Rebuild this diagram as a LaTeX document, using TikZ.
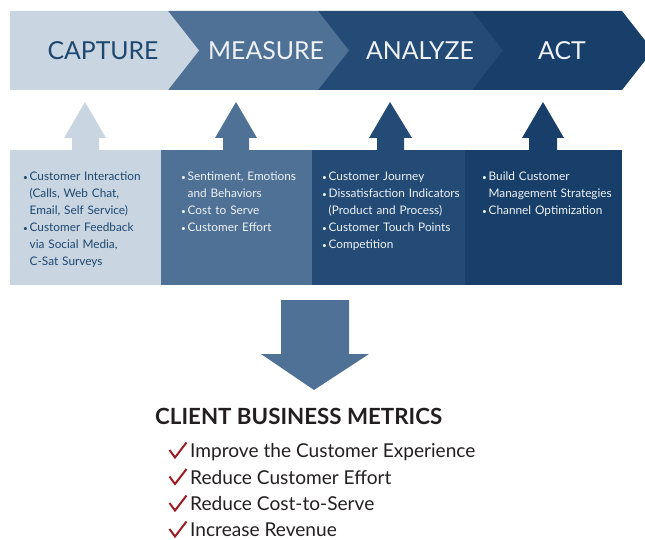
\documentclass[tikz,border=0pt]{standalone}
\usepackage{fontspec}
\setmainfont{Lato}
\begin{document}
\definecolor{capblue}{HTML}{C9D5E1}
\definecolor{meablue}{HTML}{4F7196}
\definecolor{anablue}{HTML}{234B76}
\definecolor{actblue}{HTML}{183F69}
\definecolor{navytext}{HTML}{1E4870}
\definecolor{palewhite}{HTML}{EEF2F6}
\definecolor{inkgray}{HTML}{231F20}
\definecolor{checkred}{HTML}{9E1B22}
% bullet opening a list entry, and the indent of its continuation lines
\newcommand{\bul}{\makebox[6.5pt][l]{\raisebox{0.6pt}{\scalebox{0.7}{\textbullet}}}}
\newcommand{\cnt}{\hspace*{6.5pt}}
\begin{tikzpicture}[x=1pt,y=-1pt,
  stage/.style={font=\fontsize{24.8}{27}\selectfont, inner sep=0pt},
  listbox/.style={anchor=north west, inner sep=0pt, text width=150pt, align=left,
    font=\fontsize{11.8}{17}\selectfont},
  metric/.style={anchor=base west, inner sep=0pt, text depth=0pt, text=inkgray,
    font=\fontsize{19.1}{21}\selectfont},
  tick/.style={draw=checkred, line width=2pt, line cap=butt, line join=miter}]
\useasboundingbox (0,0) rectangle (645,540);
\clip (0,0) rectangle (645,540);

% chevron band, drawn back to front
\fill[actblue] (472,11) -- (622,11) -- (653,50.5) -- (622,90) -- (472,90) -- cycle;
\fill[anablue] (318,11) -- (472,11) -- (503,50.5) -- (472,90) -- (318,90) -- cycle;
\fill[meablue] (168,11) -- (318,11) -- (349,50.5) -- (318,90) -- (168,90) -- cycle;
\fill[capblue] (10,11) -- (168,11) -- (199,50.5) -- (168,90) -- (10,90) -- cycle;

\node[stage, text=navytext] (capture) at (103,50.5) {CAPTURE};
\node[stage, text=palewhite] (measure) at (266,50.5) {MEASURE};
\node[stage, text=palewhite] (analyze) at (420,50.5) {ANALYZE};
\node[stage, text=palewhite] (act) at (562,50.5) {ACT};

% up arrows feeding each stage
\fill[capblue] (72,150) -- (72,138) -- (64,138) -- (85,102) -- (106,138) -- (99,138) -- (99,150) -- cycle;
\fill[meablue] (223,150) -- (223,138) -- (215,138) -- (236,102) -- (257,138) -- (249,138) -- (249,150) -- cycle;
\fill[anablue] (377,150) -- (377,138) -- (369,138) -- (390,102) -- (412,138) -- (404,138) -- (404,150) -- cycle;
\fill[actblue] (529,150) -- (529,138) -- (522,138) -- (543,102) -- (564,138) -- (557,138) -- (557,150) -- cycle;

% detail boxes
\fill[capblue] (10,150) rectangle (161,285);
\fill[meablue] (161,150) rectangle (312,285);
\fill[anablue] (312,150) rectangle (465,285);
\fill[actblue] (465,150) rectangle (622,285);

\node[listbox, text=navytext] (capturelist) at (23,172) {%
  \bul Customer Interaction\\\cnt(Calls, Web Chat,\\\cnt Email, Self Service)\\
  \bul Customer Feedback\\\cnt via Social Media,\\\cnt C-Sat Surveys};
\node[listbox, text=palewhite] (measurelist) at (181,172) {%
  \bul Sentiment, Emotions\\\cnt and Behaviors\\
  \bul Cost to Serve\\
  \bul Customer Effort};
\node[listbox, text=palewhite] (analyzelist) at (322,172) {%
  \bul Customer Journey\\
  \bul Dissatisfaction Indicators\\\cnt(Product and Process)\\
  \bul Customer Touch Points\\
  \bul Competition};
\node[listbox, text=palewhite] (actlist) at (482,172) {%
  \bul Build Customer\\\cnt Management Strategies\\
  \bul Channel Optimization};

% down arrow to the metrics
\fill[meablue] (281,300) -- (349,300) -- (349,354) -- (369,354) -- (314,390) -- (261,354) -- (281,354) -- cycle;

\node[anchor=base west, inner sep=0pt, text=inkgray, font=\fontsize{22.3}{24}\selectfont\bfseries] (metrics) at (155,424) {CLIENT BUSINESS METRICS};

\node[metric] (m1) at (190,457.5) {Improve the Customer Experience};
\node[metric] (m2) at (190,484) {Reduce Customer Effort};
\node[metric] (m3) at (190,510.5) {Reduce Cost-to-Serve};
\node[metric] (m4) at (190,536.5) {Increase Revenue};

% check marks
\foreach \y in {457.5,484,510.5,536.5} {
  \draw[tick] (169.5,\y-7.5) -- (175,\y) -- (186.5,\y-15);
}
\end{tikzpicture}
\end{document}
